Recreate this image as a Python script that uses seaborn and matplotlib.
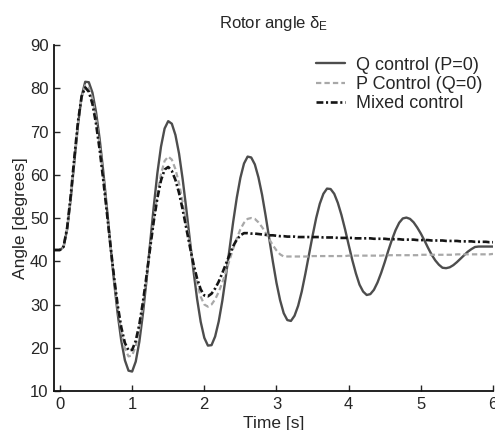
import matplotlib
matplotlib.use('Agg')
import matplotlib.pyplot as plt
import seaborn as sns

# sample times [s]
time_s = [
    -0.08, 0.00, 0.05, 0.10, 0.15, 0.20, 0.25, 0.30, 0.35, 0.40,
    0.45, 0.50, 0.55, 0.60, 0.65, 0.70, 0.75, 0.80, 0.85, 0.90,
    0.95, 1.00, 1.05, 1.10, 1.15, 1.20, 1.25, 1.30, 1.35, 1.40,
    1.45, 1.50, 1.55, 1.60, 1.65, 1.70, 1.75, 1.80, 1.85, 1.90,
    1.95, 2.00, 2.05, 2.10, 2.15, 2.20, 2.25, 2.30, 2.35, 2.40,
    2.45, 2.50, 2.55, 2.60, 2.65, 2.70, 2.75, 2.80, 2.85, 2.90,
    2.95, 3.00, 3.05, 3.10, 3.15, 3.20, 3.25, 3.30, 3.35, 3.40,
    3.45, 3.50, 3.55, 3.60, 3.65, 3.70, 3.75, 3.80, 3.85, 3.90,
    3.95, 4.00, 4.05, 4.10, 4.15, 4.20, 4.25, 4.30, 4.35, 4.40,
    4.45, 4.50, 4.55, 4.60, 4.65, 4.70, 4.75, 4.80, 4.85, 4.90,
    4.95, 5.00, 5.05, 5.10, 5.15, 5.20, 5.25, 5.30, 5.35, 5.40,
    5.45, 5.50, 5.55, 5.60, 5.65, 5.70, 5.75, 5.80, 5.85, 5.90,
    5.95, 6.00]

# rotor angle [degrees]
q_control = [
    42.6, 42.6, 43.3, 47.4, 54.5, 63.1, 71.5, 78.1, 81.5, 81.4,
    79.0, 74.5, 68.3, 60.8, 52.4, 43.7, 35.3, 27.8, 21.6, 17.1,
    14.7, 14.5, 16.8, 21.4, 27.9, 35.7, 44.3, 52.7, 60.4, 66.5,
    70.7, 72.4, 71.8, 69.2, 64.9, 59.0, 52.2, 44.9, 37.8, 31.3,
    26.0, 22.3, 20.5, 20.6, 22.6, 26.1, 30.9, 36.7, 42.9, 49.1,
    54.7, 59.3, 62.6, 64.2, 64.0, 62.4, 59.4, 55.4, 50.5, 45.2,
    39.9, 35.0, 31.0, 28.0, 26.4, 26.2, 27.4, 29.7, 33.0, 37.1,
    41.5, 45.9, 50.0, 53.3, 55.6, 56.8, 56.7, 55.6, 53.5, 50.7,
    47.4, 43.8, 40.3, 37.2, 34.6, 33.0, 32.2, 32.4, 33.4, 35.1,
    37.3, 39.8, 42.5, 45.0, 47.2, 48.9, 49.9, 50.1, 49.8, 49.0,
    47.8, 46.4, 44.8, 43.1, 41.5, 40.2, 39.2, 38.5, 38.4, 38.6,
    39.1, 39.8, 40.6, 41.4, 42.2, 42.8, 43.3, 43.4, 43.4, 43.4,
    43.4, 43.4]

p_control = [
    42.6, 42.6, 43.3, 47.6, 54.8, 63.5, 71.8, 77.9, 80.7, 80.1,
    77.5, 73.0, 66.9, 59.7, 51.7, 43.6, 35.9, 29.1, 23.6, 19.8,
    18.0, 18.2, 20.4, 24.4, 29.8, 36.2, 43.1, 49.7, 55.6, 60.2,
    63.2, 64.2, 63.5, 61.3, 58.0, 53.7, 48.9, 43.8, 39.1, 34.9,
    31.8, 30.0, 29.5, 30.0, 31.2, 32.9, 35.1, 37.6, 40.3, 42.9,
    45.3, 47.4, 48.9, 49.8, 50.0, 49.8, 49.0, 47.9, 46.6, 45.1,
    43.7, 42.5, 41.6, 41.1, 41.1, 41.1, 41.1, 41.1, 41.1, 41.1,
    41.1, 41.2, 41.2, 41.2, 41.2, 41.2, 41.2, 41.2, 41.2, 41.2,
    41.2, 41.3, 41.3, 41.3, 41.3, 41.3, 41.3, 41.3, 41.3, 41.3,
    41.3, 41.4, 41.4, 41.4, 41.4, 41.4, 41.4, 41.4, 41.4, 41.4,
    41.4, 41.5, 41.5, 41.5, 41.5, 41.5, 41.5, 41.5, 41.5, 41.5,
    41.5, 41.6, 41.6, 41.6, 41.6, 41.6, 41.6, 41.6, 41.6, 41.6,
    41.6, 41.7]

mixed_control = [
    42.6, 42.6, 43.4, 47.8, 55.3, 64.1, 72.3, 78.1, 80.2, 79.2,
    76.4, 71.8, 65.8, 58.8, 51.3, 43.6, 36.3, 29.8, 24.7, 21.1,
    19.4, 19.5, 21.6, 25.4, 30.6, 36.7, 43.1, 49.3, 54.6, 58.7,
    61.2, 61.8, 60.9, 58.8, 55.8, 52.0, 47.7, 43.4, 39.4, 36.0,
    33.5, 32.1, 31.9, 32.5, 33.7, 35.3, 37.3, 39.4, 41.5, 43.5,
    45.0, 46.0, 46.5, 46.5, 46.4, 46.4, 46.3, 46.2, 46.1, 46.0,
    46.0, 45.9, 45.8, 45.8, 45.7, 45.7, 45.7, 45.6, 45.6, 45.6,
    45.6, 45.6, 45.6, 45.6, 45.5, 45.5, 45.5, 45.5, 45.4, 45.4,
    45.4, 45.4, 45.4, 45.3, 45.3, 45.3, 45.3, 45.3, 45.2, 45.2,
    45.2, 45.2, 45.1, 45.1, 45.1, 45.1, 45.0, 45.0, 45.0, 45.0,
    44.9, 44.9, 44.9, 44.9, 44.8, 44.8, 44.8, 44.8, 44.7, 44.7,
    44.7, 44.7, 44.6, 44.6, 44.6, 44.6, 44.5, 44.5, 44.5, 44.5,
    44.4, 44.4]

x_ticks = [0, 1, 2, 3, 4, 5, 6]
y_ticks = [10, 20, 30, 40, 50, 60, 70, 80, 90]

sns.set_style('ticks')
plt.rcParams['font.family'] = ['Liberation Sans', 'DejaVu Sans']
plt.rcParams['mathtext.fontset'] = 'custom'
plt.rcParams['mathtext.rm'] = 'Liberation Sans'
plt.rcParams['mathtext.it'] = 'Liberation Sans'
txt = '#262626'

fig = plt.figure(figsize=(4.95, 4.30), dpi=100)
ax = fig.add_axes([0.109, 0.0907, 0.887, 0.8046])

sns.lineplot(x=time_s, y=q_control, ax=ax, color='#4d4d4d', lw=1.7,
             label='Q control (P=0)', sort=False, estimator=None)
sns.lineplot(x=time_s, y=p_control, ax=ax, color='#a8a8a8', lw=1.6,
             label='P Control (Q=0)', sort=False, estimator=None)
sns.lineplot(x=time_s, y=mixed_control, ax=ax, color='#151515', lw=1.9,
             label='Mixed control', sort=False, estimator=None)
ax.lines[1].set_dashes([2.4, 1.4])
ax.lines[2].set_dashes([2.6, 1.0, 0.8, 1.0])

ax.set_xlim(-0.083, 6)
ax.set_ylim(10, 90)
ax.set_xticks(x_ticks)
ax.set_yticks(y_ticks)
ax.tick_params(direction='in', length=4, width=1, labelsize=12,
               colors=txt)
ax.tick_params(axis='x', pad=4)
ax.tick_params(axis='y', pad=4)
sns.despine(ax=ax)
for s in ['left', 'bottom']:
    ax.spines[s].set_linewidth(1.3)
    ax.spines[s].set_color('#111111')

ax.set_xlabel('Time [s]', fontsize=12.5, color=txt, labelpad=3)
ax.set_ylabel('Angle [degrees]', fontsize=12.5, color=txt, labelpad=1)
ax.set_title('Rotor angle $\\mathrm{\\delta_E}$', fontsize=12,
             color=txt, pad=12)

leg = ax.legend(loc='upper right', bbox_to_anchor=(0.976, 0.966),
                frameon=False, fontsize=13, handlelength=1.6,
                handletextpad=0.6, labelspacing=0.13, borderpad=0,
                borderaxespad=0)
for t in leg.get_texts():
    t.set_color(txt)

plt.savefig('out.png', dpi=100)
